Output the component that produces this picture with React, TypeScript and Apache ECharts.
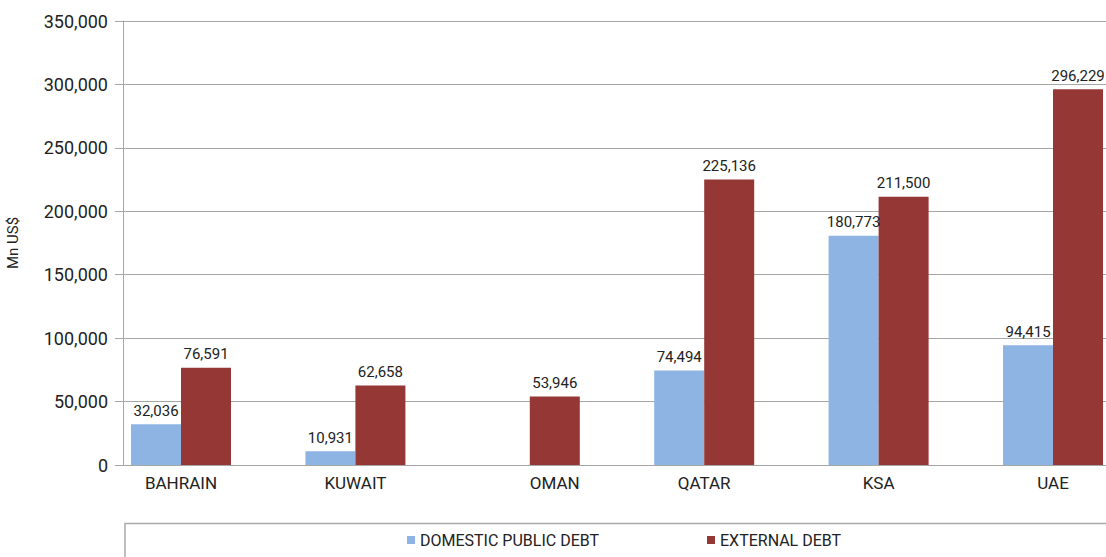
import React, { useEffect, useRef } from "react";
import * as echarts from "echarts";

const categories = ["BAHRAIN", "KUWAIT", "OMAN", "QATAR", "KSA", "UAE"];
const domesticDebt: (number | null)[] = [32036, 10931, null, 74494, 180773, 94415];
const externalDebt: number[] = [76591, 62658, 53946, 225136, 211500, 296229];
const seriesNames = ["DOMESTIC PUBLIC DEBT", "EXTERNAL DEBT"];
const yMin = 0;
const yMax = 350000;
const yInterval = 50000;
const yTitle = "Mn US$";

const FONT = "Roboto";
const TXT = "#222";
const GRIDC = "#a6a6a6";

const fmt = (v: number) => Number(v).toLocaleString("en-US");

export default function App() {
  const ref = useRef<HTMLDivElement>(null);
  useEffect(() => {
    document.body.style.margin = "0";
    if (!ref.current) return;
    const chart = echarts.init(ref.current, null, { renderer: "svg" });
    const barLabel = {
      show: true,
      position: "top",
      distance: 6,
      fontFamily: FONT,
      fontSize: 15,
      color: TXT,
      formatter: (p: any) => (p.value == null ? "" : fmt(p.value)),
    };
    const legendText = { fontFamily: FONT, fontSize: 16, color: TXT };
    chart.setOption({
      animation: false,
      backgroundColor: "#fff",
      textStyle: { fontFamily: FONT },
      grid: [
        { left: 93.8, width: 1046.4, top: 21, bottom: 92, z: 3, outerBoundsMode: "none", containLabel: false },
        { left: 123, right: 0, top: 21, bottom: 92, z: 1, outerBoundsMode: "none", containLabel: false },
      ],
      xAxis: [
        {
          gridIndex: 0,
          type: "category",
          data: categories.map((c) =>
            c === "OMAN" ? { value: c, textStyle: { padding: [0, 0, 0, 50] } } : c
          ),
          axisLine: { show: false },
          axisTick: { show: false },
          axisLabel: { fontFamily: FONT, fontSize: 17, color: TXT, margin: 9, interval: 0 },
        },
        {
          gridIndex: 1,
          type: "value",
          min: 0,
          max: 1,
          axisLine: { show: true, lineStyle: { color: GRIDC, width: 1 } },
          axisTick: { show: false },
          axisLabel: { show: false },
          splitLine: { show: false },
        },
      ],
      yAxis: [
        {
          gridIndex: 0,
          type: "value",
          min: yMin,
          max: yMax,
          interval: yInterval,
          show: false,
          splitLine: { show: false },
        },
        {
          gridIndex: 1,
          type: "value",
          min: yMin,
          max: yMax,
          interval: yInterval,
          name: yTitle,
          nameLocation: "middle",
          nameGap: 103,
          nameTextStyle: { fontFamily: FONT, fontSize: 15, color: TXT },
          axisLine: { show: true, lineStyle: { color: GRIDC, width: 1 } },
          axisTick: { show: true, length: 8, lineStyle: { color: GRIDC } },
          axisLabel: {
            fontFamily: FONT,
            fontSize: 18,
            color: TXT,
            margin: 15,
            formatter: (v: number) => fmt(v),
          },
          splitLine: { show: true, lineStyle: { color: GRIDC, width: 1 } },
        },
      ],
      legend: [
        {
          data: [seriesNames[0]],
          left: 402,
          top: 527,
          icon: "rect",
          itemWidth: 8,
          itemHeight: 8,
          itemGap: 0,
          textStyle: legendText,
        },
        {
          data: [seriesNames[1]],
          left: 702,
          top: 527,
          icon: "rect",
          itemWidth: 8,
          itemHeight: 8,
          itemGap: 0,
          textStyle: legendText,
        },
      ],
      graphic: [
        {
          type: "rect",
          left: 122.5,
          top: 521,
          shape: { width: 1100, height: 100 },
          style: { fill: "none", stroke: "#aaa", lineWidth: 1.5 },
          silent: true,
        },
      ],
      series: [
        {
          name: seriesNames[0],
          type: "bar",
          xAxisIndex: 0,
          yAxisIndex: 0,
          data: domesticDebt,
          barWidth: 50,
          barGap: "0%",
          itemStyle: { color: "#8eb4e3" },
          label: barLabel,
        },
        {
          name: seriesNames[1],
          type: "bar",
          xAxisIndex: 0,
          yAxisIndex: 0,
          data: externalDebt,
          barWidth: 50,
          barGap: "0%",
          itemStyle: { color: "#953735" },
          label: barLabel,
        },
      ],
    });
    return () => chart.dispose();
  }, []);
  return (
    <div
      ref={ref}
      style={{ position: "absolute", left: 0, top: 0, width: 1106, height: 557 }}
    />
  );
}
